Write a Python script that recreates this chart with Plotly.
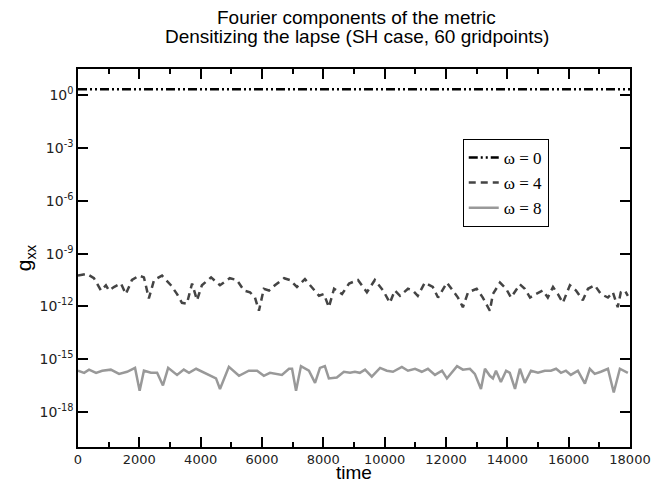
import plotly.graph_objects as go

# ---------------------------------------------------
# DATA
# ---------------------------------------------------

t0 = [0, 18000]
log_g0 = [0.35, 0.35]

t4 = [0, 290, 520, 750, 910, 1010, 1170, 1400, 1560, 1760, 1990, 2150, 2310,
      2480, 2740, 3030, 3230, 3390, 3550, 3720, 3880, 4040, 4340, 4630, 4950,
      5180, 5410, 5610, 5770, 5900, 6060, 6230, 6420, 6720, 6910, 7140, 7400,
      7630, 7860, 8020, 8180, 8350, 8610, 8840, 9130, 9420, 9680, 9950, 10170,
      10330, 10500, 10760, 10920, 11080, 11310, 11570, 11740, 12030, 12230,
      12390, 12550, 12720, 13000, 13200, 13430, 13530, 13760, 13960, 14120,
      14410, 14570, 14740, 14930, 15160, 15320, 15490, 15650, 15810, 16040,
      16240, 16460, 16630, 16850, 17050, 17280, 17440, 17600, 17700, 17830,
      17930]
log_g4 = [-10.25, -10.15, -10.4, -11.1, -10.8, -11.1, -10.9, -10.7, -11.3,
          -10.5, -10.25, -10.35, -11.55, -10.5, -10.25, -10.8, -11.3, -11.8,
          -11.85, -10.7, -11.65, -10.8, -10.35, -10.8, -10.4, -10.5, -11.1,
          -11.2, -11.5, -12.25, -11.0, -11.1, -10.8, -10.4, -10.5, -10.9,
          -10.45, -10.9, -11.4, -11.3, -12.05, -11.0, -11.3, -10.7, -10.5,
          -11.2, -10.5, -11.1, -11.8, -11.1, -11.4, -11.0, -11.1, -11.4,
          -10.65, -10.9, -11.5, -10.65, -11.1, -11.5, -12.05, -11.2, -11.0,
          -11.5, -12.25, -11.3, -10.65, -11.0, -11.5, -10.75, -11.0, -11.5,
          -11.3, -11.1, -11.5, -10.9, -11.3, -11.8, -10.8, -11.1, -11.65,
          -11.0, -10.8, -11.3, -11.5, -11.2, -12.05, -11.2, -11.1, -11.4]

t8 = [0, 200, 360, 590, 790, 1070, 1340, 1600, 1860, 2010, 2150, 2380, 2580,
      2770, 2940, 3230, 3450, 3620, 3850, 4040, 4270, 4500, 4630, 4920, 5250,
      5570, 5840, 6060, 6260, 6650, 6880, 6980, 7110, 7270, 7530, 7730, 7890,
      8050, 8180, 8440, 8670, 8870, 9030, 9190, 9360, 9580, 9850, 10070, 10270,
      10560, 10760, 10990, 11210, 11410, 11640, 11870, 12030, 12360, 12550,
      12780, 12940, 13140, 13270, 13430, 13530, 13630, 13790, 13960, 14080,
      14250, 14410, 14570, 14770, 15000, 15220, 15420, 15590, 15750, 15910,
      16070, 16300, 16530, 16690, 16850, 17050, 17280, 17470, 17670, 17930]
log_g8 = [-15.66, -15.78, -15.6, -15.78, -15.66, -15.6, -15.84, -15.72, -15.5,
          -16.8, -15.66, -15.78, -15.78, -16.5, -15.5, -15.9, -15.6, -15.78,
          -15.55, -15.72, -15.9, -16.1, -16.7, -15.44, -15.95, -15.66, -15.66,
          -15.95, -15.78, -15.9, -15.55, -15.55, -16.8, -15.4, -15.66, -16.35,
          -15.5, -15.4, -16.1, -16.05, -15.72, -15.78, -15.72, -15.78, -15.6,
          -16.0, -15.5, -15.66, -15.72, -15.44, -15.66, -15.55, -15.72, -15.55,
          -15.9, -15.66, -16.1, -15.4, -15.6, -15.55, -15.84, -16.7, -15.55,
          -15.95, -16.1, -15.66, -16.3, -15.66, -15.78, -16.7, -15.55, -16.35,
          -15.66, -15.78, -15.66, -15.66, -15.55, -15.78, -15.66, -15.9, -15.66,
          -16.4, -15.55, -15.84, -15.72, -15.55, -16.9, -15.55, -15.78]

ytick_exp = [0, -3, -6, -9, -12, -15, -18]
xtick_vals = [0, 2000, 4000, 6000, 8000, 10000, 12000, 14000, 16000, 18000]
title_lines = ['Fourier components of the metric',
               'Densitizing the lapse (SH case, 60 gridpoints)']


def pw(vals):
    return [10 ** v for v in vals]


fig = go.Figure()

fig.add_trace(go.Scatter(
    x=t0, y=pw(log_g0), mode='lines', name='ω = 0',
    line=dict(color='black', width=2.5, dash='9px,3px,2px,3px,2px,3px')
))

fig.add_trace(go.Scatter(
    x=t4, y=pw(log_g4), mode='lines', name='ω = 4',
    line=dict(color='#444444', width=2.5, dash='7px,5px')
))

fig.add_trace(go.Scatter(
    x=t8, y=pw(log_g8), mode='lines', name='ω = 8',
    line=dict(color='#999999', width=2.5)
))

# title as two annotations so each line sits where the reference has it
for text, ypos in zip(title_lines, [1.135, 1.085]):
    fig.add_annotation(
        text=text, xref='paper', yref='paper', x=0.505, y=ypos,
        xanchor='center', yanchor='middle', showarrow=False,
        font=dict(family='Liberation Sans, Arial', size=19, color='black')
    )

# the page body adds an 8px margin, so the figure is 8px smaller and shifted
fig.update_layout(
    width=663,
    height=475,
    margin=dict(l=70, r=41, t=61, b=36, autoexpand=False),
    paper_bgcolor='white',
    plot_bgcolor='white',
    showlegend=True,
    legend=dict(
        x=0.697,
        y=0.815,
        xanchor='left',
        yanchor='top',
        bordercolor='black',
        borderwidth=1,
        bgcolor='white',
        font=dict(family='Liberation Serif, Times New Roman', size=17, color='black'),
        itemwidth=30,
        tracegroupgap=0
    )
)

fig.update_xaxes(
    range=[0, 18000],
    automargin=False,
    tickvals=xtick_vals,
    ticktext=[str(v) for v in xtick_vals],
    ticks='inside',
    ticklen=10,
    tickwidth=1.5,
    tickcolor='black',
    minor=dict(dtick=1000, tick0=0, ticks='inside', ticklen=5, tickwidth=1.5,
               tickcolor='black', showgrid=False),
    showline=True,
    linecolor='black',
    linewidth=1.5,
    mirror='ticks',
    showgrid=False,
    zeroline=False,
    tickfont=dict(family='DejaVu Sans', size=13, color='#222222'),
    title=dict(text='time', standoff=0,
               font=dict(family='Liberation Sans, Arial', size=19, color='black'))
)

fig.update_yaxes(
    type='log',
    range=[-20, 1.5],
    automargin=False,
    tickvals=[10 ** e for e in ytick_exp],
    ticktext=['10<sup>%d</sup>' % e for e in ytick_exp],
    ticks='inside',
    ticklen=10,
    tickwidth=1.5,
    tickcolor='black',
    showline=True,
    linecolor='black',
    linewidth=1.5,
    mirror='ticks',
    showgrid=False,
    zeroline=False,
    tickfont=dict(family='DejaVu Sans', size=14, color='#222222'),
    title=dict(text='g<sub>xx</sub>', standoff=2,
               font=dict(family='Liberation Sans, Arial', size=21, color='black'))
)

fig.write_html("out.html")
